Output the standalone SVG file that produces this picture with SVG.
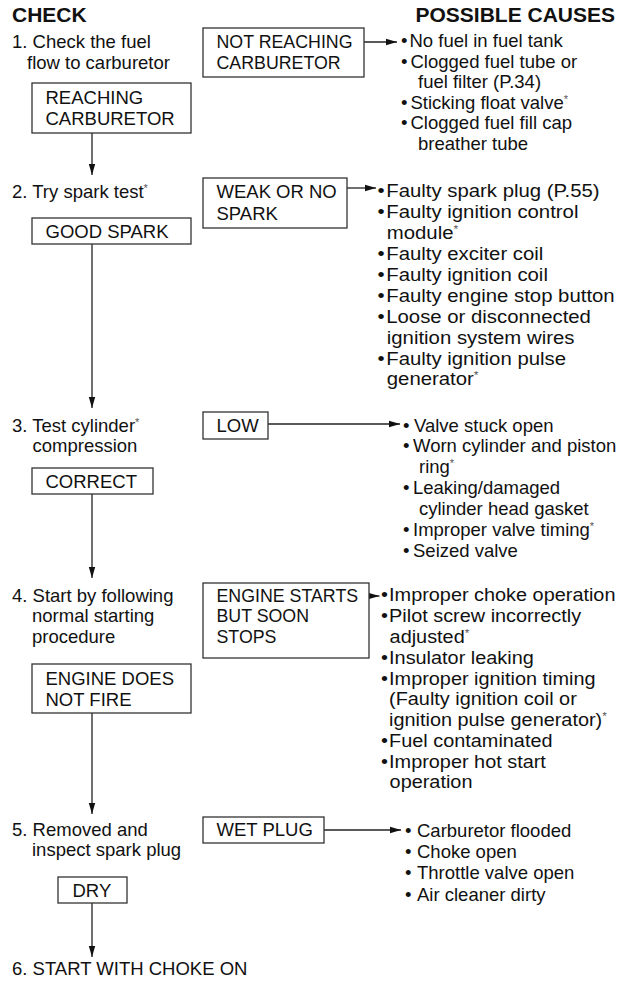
<svg xmlns="http://www.w3.org/2000/svg" width="621" height="983" viewBox="0 0 621 983">
<style>
text{font-family:"Liberation Sans",Arial,sans-serif;font-size:18.5px;fill:#111}
.h{font-weight:bold;font-size:21px}
.n{font-size:17.8px}
.box{fill:none;stroke:#333;stroke-width:1.3}
.c{stroke:#222;stroke-width:1.3;fill:none;marker-end:url(#ah)}
.s{font-size:11px;fill:#555}
</style>
<defs>
<marker id="ah" markerUnits="userSpaceOnUse" markerWidth="11" markerHeight="8" refX="11" refY="4" orient="auto">
<path d="M0,0.8 L11,4 L0,7.2 z" fill="#111"/>
</marker>
</defs>
<rect width="621" height="983" fill="#fff"/>
<g id="headers">
<text class="h" x="12" y="22">CHECK</text>
<text class="h" x="615" y="22" text-anchor="end">POSSIBLE CAUSES</text>
</g>
<g id="connectors">
<line class="c" x1="364" y1="42" x2="397" y2="42"/>
<line class="c" x1="92" y1="133" x2="92" y2="175"/>
<line class="c" x1="347" y1="188" x2="376" y2="188"/>
<line class="c" x1="92" y1="244" x2="92" y2="408"/>
<line class="c" x1="268" y1="424" x2="400" y2="424"/>
<line class="c" x1="92" y1="494" x2="92" y2="578"/>
<line class="c" x1="369" y1="596" x2="379.5" y2="596"/>
<line class="c" x1="92" y1="713" x2="92" y2="814"/>
<line class="c" x1="324" y1="830" x2="401" y2="830"/>
<line class="c" x1="92" y1="903" x2="92" y2="957"/>
</g>
<g id="step1">
<text x="12" y="48">1. Check the fuel</text>
<text x="27" y="69">flow to carburetor</text>
</g>
<g id="not-reaching">
<rect class="box" x="203" y="28" width="161" height="49"/>
<text class="n" x="216.5" y="48">NOT REACHING</text>
<text class="n" x="216.5" y="69">CARBURETOR</text>
</g>
<g id="causes1">
<text x="401" y="47">•</text><text x="409.5" y="47">No fuel in fuel tank</text>
<text x="401" y="67.5">•</text><text x="410.5" y="67.5">Clogged fuel tube or</text>
<text x="418" y="88">fuel filter (P.34)</text>
<text x="401" y="108.5">•</text><text x="410.5" y="108.5">Sticking float valve<tspan class="s" dy="-6">*</tspan></text>
<text x="401" y="129">•</text><text x="410.5" y="129">Clogged fuel fill cap</text>
<text x="418" y="149.5">breather tube</text>
</g>
<g id="reaching">
<rect class="box" x="32" y="83" width="159" height="50"/>
<text x="45.5" y="104">REACHING</text>
<text x="45.5" y="125">CARBURETOR</text>
</g>
<g id="step2">
<text x="12" y="198">2. Try spark test<tspan class="s" dy="-6">*</tspan></text>
</g>
<g id="weak-spark">
<rect class="box" x="203" y="178" width="144" height="50"/>
<text x="216.5" y="198">WEAK OR NO</text>
<text x="216.5" y="220">SPARK</text>
</g>
<g id="causes2" transform="translate(-37.8,0) scale(1.1,1)">
<text x="377.5" y="197">•</text><text x="385.5" y="197">Faulty spark plug (P.55)</text>
<text x="377.5" y="218">•</text><text x="385.5" y="218">Faulty ignition control</text>
<text x="386" y="239">module<tspan class="s" dy="-6">*</tspan></text>
<text x="377.5" y="260">•</text><text x="385.5" y="260">Faulty exciter coil</text>
<text x="377.5" y="281">•</text><text x="385.5" y="281">Faulty ignition coil</text>
<text x="377.5" y="302">•</text><text x="385.5" y="302">Faulty engine stop button</text>
<text x="377.5" y="323">•</text><text x="385.5" y="323">Loose or disconnected</text>
<text x="386" y="344">ignition system wires</text>
<text x="377.5" y="365">•</text><text x="385.5" y="365">Faulty ignition pulse</text>
<text x="386" y="385.5">generator<tspan class="s" dy="-6">*</tspan></text>
</g>
<g id="good-spark">
<rect class="box" x="32" y="218" width="159" height="26"/>
<text x="45.5" y="238">GOOD SPARK</text>
</g>
<g id="step3">
<text x="12" y="431.5">3. Test cylinder<tspan class="s" dy="-6">*</tspan></text>
<text x="32.5" y="452">compression</text>
</g>
<g id="low">
<rect class="box" x="203" y="412" width="65" height="27"/>
<text x="216.5" y="431.5">LOW</text>
</g>
<g id="causes3">
<text x="403" y="431.5">•</text><text x="414" y="431.5">Valve stuck open</text>
<text x="403" y="452.3">•</text><text x="413" y="452.3">Worn cylinder and piston</text>
<text x="419" y="473">ring<tspan class="s" dy="-6">*</tspan></text>
<text x="403" y="494">•</text><text x="413" y="494">Leaking/damaged</text>
<text x="419" y="515">cylinder head gasket</text>
<text x="403" y="535.5">•</text><text x="413" y="535.5">Improper valve timing<tspan class="s" dy="-6">*</tspan></text>
<text x="403" y="556.5">•</text><text x="413" y="556.5">Seized valve</text>
</g>
<g id="correct">
<rect class="box" x="32" y="468" width="121" height="26"/>
<text x="45.5" y="487.5">CORRECT</text>
</g>
<g id="step4">
<text x="12" y="601.5">4. Start by following</text>
<text x="32" y="622.3">normal starting</text>
<text x="32" y="643">procedure</text>
</g>
<g id="engine-starts">
<rect class="box" x="203" y="583" width="166" height="75"/>
<text class="n" x="216.5" y="601.5">ENGINE STARTS</text>
<text class="n" x="216.5" y="622.3">BUT SOON</text>
<text class="n" x="216.5" y="643">STOPS</text>
</g>
<g id="causes4" transform="translate(-28.575,0) scale(1.075,1)">
<text x="381" y="601.5">•</text><text x="388.5" y="601.5">Improper choke operation</text>
<text x="381" y="622.3">•</text><text x="388.5" y="622.3">Pilot screw incorrectly</text>
<text x="389" y="643">adjusted<tspan class="s" dy="-6">*</tspan></text>
<text x="381" y="664">•</text><text x="388.5" y="664">Insulator leaking</text>
<text x="381" y="685">•</text><text x="388.5" y="685">Improper ignition timing</text>
<text x="388.5" y="705.5">(Faulty ignition coil or</text>
<text x="388.5" y="726.5">ignition pulse generator)<tspan class="s" dy="-6">*</tspan></text>
<text x="381" y="747">•</text><text x="388.5" y="747">Fuel contaminated</text>
<text x="381" y="768">•</text><text x="388.5" y="768">Improper hot start</text>
<text x="389" y="788.5">operation</text>
</g>
<g id="engine-not-fire">
<rect class="box" x="32" y="664" width="159" height="49"/>
<text x="45.5" y="685">ENGINE DOES</text>
<text x="45.5" y="706">NOT FIRE</text>
</g>
<g id="step5">
<text x="12" y="835.5">5. Removed and</text>
<text x="32" y="856">inspect spark plug</text>
</g>
<g id="wet-plug">
<rect class="box" x="203" y="817" width="121" height="26"/>
<text x="216.5" y="835.5">WET PLUG</text>
</g>
<g id="causes5">
<text x="405" y="837">•</text><text x="417" y="837">Carburetor flooded</text>
<text x="405" y="858">•</text><text x="417" y="858">Choke open</text>
<text x="405" y="879">•</text><text x="417" y="879">Throttle valve open</text>
<text x="405" y="900.5">•</text><text x="417" y="900.5">Air cleaner dirty</text>
</g>
<g id="dry">
<rect class="box" x="58" y="877" width="69" height="26"/>
<text x="72.5" y="897">DRY</text>
</g>
<g id="step6">
<text x="12" y="975">6. START WITH CHOKE ON</text>
</g>
</svg>
